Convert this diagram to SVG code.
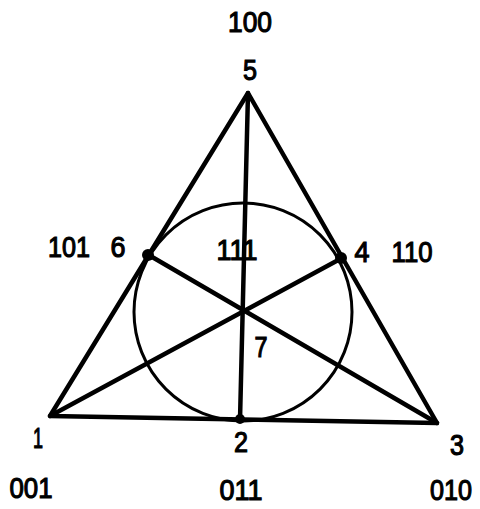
<svg xmlns="http://www.w3.org/2000/svg" width="480" height="509" viewBox="0 0 480 509">
<style>
.e{stroke:#000;stroke-width:4.5;fill:none;stroke-linecap:round;stroke-linejoin:round}
.c{stroke:#000;stroke-width:3;fill:none}
.d{fill:#000}
text{font-family:"Liberation Sans",Arial,sans-serif;font-size:30px;fill:#000;stroke:#000;stroke-width:1.2;text-anchor:middle}
</style>
<rect width="480" height="509" fill="#fff"/>
<g id="connectors">
<circle class="c" cx="243" cy="312" r="109"/>
<polygon class="e" points="248,93 50,416 437,423"/>
<line class="e" x1="248" y1="93" x2="240" y2="420"/>
<line class="e" x1="50" y1="416" x2="342" y2="258"/>
<line class="e" x1="437" y1="423" x2="147" y2="254"/>
</g>
<g id="n5"><text x="250" y="80" textLength="14" lengthAdjust="spacingAndGlyphs">5</text><text x="250" y="32" textLength="44" lengthAdjust="spacingAndGlyphs">100</text></g>
<g id="n1"><text x="38" y="448" textLength="10" lengthAdjust="spacingAndGlyphs">1</text><text x="31" y="498" textLength="43" lengthAdjust="spacingAndGlyphs">001</text></g>
<g id="n2"><circle class="d" cx="240" cy="419" r="5"/><text x="241" y="452" textLength="14" lengthAdjust="spacingAndGlyphs">2</text><text x="241" y="500" textLength="43" lengthAdjust="spacingAndGlyphs">011</text></g>
<g id="n3"><text x="457" y="455" textLength="14" lengthAdjust="spacingAndGlyphs">3</text><text x="451" y="500" textLength="42" lengthAdjust="spacingAndGlyphs">010</text></g>
<g id="n6"><circle class="d" cx="148" cy="255" r="6"/><text x="118" y="257" textLength="15" lengthAdjust="spacingAndGlyphs">6</text><text x="69" y="257" textLength="42" lengthAdjust="spacingAndGlyphs">101</text></g>
<g id="n4"><circle class="d" cx="341" cy="258" r="6"/><text x="362" y="262" textLength="15" lengthAdjust="spacingAndGlyphs">4</text><text x="412" y="262" textLength="41" lengthAdjust="spacingAndGlyphs">110</text></g>
<g id="n7"><text x="237" y="260" textLength="41" lengthAdjust="spacingAndGlyphs">111</text><text x="261" y="357" textLength="13" lengthAdjust="spacingAndGlyphs">7</text></g>
</svg>
